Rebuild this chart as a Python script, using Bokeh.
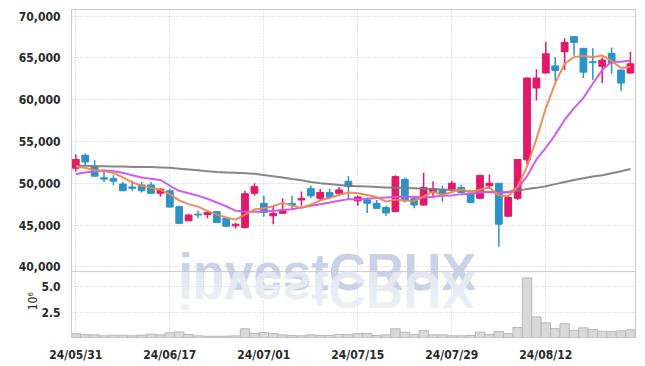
import math
from bokeh.plotting import figure
from bokeh.models import Range1d, NumeralTickFormatter, FixedTicker, Label, ColumnDataSource, Span
from bokeh.embed import file_html
from bokeh.resources import INLINE

dates = ["24/05/31", "24/06/03", "24/06/04", "24/06/05", "24/06/07", "24/06/10", "24/06/11", "24/06/12",
         "24/06/13", "24/06/14", "24/06/17", "24/06/18", "24/06/19", "24/06/20", "24/06/21", "24/06/24",
         "24/06/25", "24/06/26", "24/06/27", "24/06/28", "24/07/01", "24/07/02", "24/07/03", "24/07/04",
         "24/07/05", "24/07/08", "24/07/09", "24/07/10", "24/07/11", "24/07/12", "24/07/15", "24/07/16",
         "24/07/17", "24/07/18", "24/07/19", "24/07/22", "24/07/23", "24/07/24", "24/07/25", "24/07/26",
         "24/07/29", "24/07/30", "24/07/31", "24/08/01", "24/08/02", "24/08/05", "24/08/06", "24/08/07",
         "24/08/08", "24/08/09", "24/08/12", "24/08/13", "24/08/14", "24/08/16", "24/08/19", "24/08/20",
         "24/08/21", "24/08/22", "24/08/23", "24/08/26"]

opens = [51800, 53350, 52050, 50650, 50550, 49900, 49550, 49800, 49800, 48800,
         49100, 47200, 45500, 46300, 46250, 46600, 45800, 44900, 44700, 48800,
         47600, 46100, 46400, 47600, 48000, 49350, 48200, 48900, 48800, 50250,
         47900, 48000, 47600, 47100, 46600, 50450, 48150, 47400, 49000, 49200,
         49300, 49500, 48800, 48200, 49700, 50000, 46050, 48200, 52800, 61400,
         63200, 64050, 65750, 67550, 66150, 64550, 64000, 65550, 63550, 63200]
closes = [52850, 52550, 50850, 50500, 50250, 49100, 49400, 49100, 48800, 49300,
          47150, 45200, 46200, 46200, 46500, 45300, 44850, 45100, 48750, 49600,
          46500, 46400, 46700, 47400, 48200, 48500, 48900, 48300, 49200, 49600,
          48350, 47600, 47000, 46450, 50800, 47900, 47400, 49500, 49350, 48700,
          50000, 48900, 47700, 50950, 50000, 45100, 48300, 52850, 62600, 62600,
          65500, 63500, 66850, 66850, 63300, 64450, 64750, 64400, 62000, 64300]
highs = [53450, 53550, 52750, 51400, 50950, 50150, 50300, 50150, 50150, 49400,
         49350, 47300, 46350, 46700, 46600, 46650, 45850, 45250, 49100, 50000,
         48500, 47300, 48200, 48500, 49000, 49700, 49300, 49350, 49550, 50850,
         48500, 48300, 48000, 47300, 50950, 50650, 48400, 51250, 50250, 49700,
         50300, 49800, 48850, 51000, 51050, 50050, 48400, 52900, 62650, 63650,
         66950, 65100, 67350, 67600, 66200, 66150, 65050, 66250, 63600, 65700]
lows = [51400, 52150, 50800, 50150, 49750, 49100, 49100, 48900, 48800, 48400,
        47100, 45100, 45500, 45800, 45800, 45300, 44800, 44600, 44600, 48500,
        46000, 45100, 46400, 46900, 47300, 48200, 48000, 48100, 48500, 48150,
        47300, 46450, 46950, 46100, 46550, 47700, 47000, 47300, 48300, 47800,
        49100, 48800, 47600, 48150, 49300, 42400, 46000, 48000, 52250, 59900,
        63150, 62250, 63550, 65250, 62600, 62400, 62000, 63100, 61050, 63100]
volumes_m = [0.55, 0.46, 0.43, 0.34, 0.40, 0.40, 0.34, 0.40, 0.49, 0.43,
             0.62, 0.71, 0.46, 0.34, 0.30, 0.30, 0.30, 0.34, 1.00, 0.58,
             0.65, 0.55, 0.43, 0.37, 0.34, 0.43, 0.37, 0.37, 0.46, 0.46,
             0.55, 0.55, 0.37, 0.43, 1.00, 0.68, 0.46, 0.84, 0.43, 0.43,
             0.34, 0.34, 0.37, 0.68, 0.46, 0.74, 0.55, 1.12, 5.79, 2.12,
             1.56, 1.02, 1.49, 0.86, 1.09, 0.93, 0.77, 0.74, 0.81, 0.90]
ma5 = [52000, 51850, 51550, 51450, 51250, 50700, 50100, 49700, 49450, 49200,
       48700, 47950, 47500, 47200, 46700, 46250, 45900, 45650, 46250, 46850,
       47000, 47250, 47650, 47350, 47050, 47450, 47950, 48250, 48600, 48900,
       48800, 48600, 48350, 47800, 48050, 47950, 47900, 48400, 49000, 48600,
       48950, 49250, 48950, 49250, 49500, 48550, 48450, 49600, 52000, 55300,
       59000, 62000, 64300, 65100, 65250, 65100, 65300, 64650, 63800, 63950]
ma20 = [51100, 51300, 51450, 51550, 51450, 51250, 50950, 50700, 50550, 50400,
        49700, 49100, 48800, 48500, 48150, 47700, 47250, 46700, 46600, 46600,
        46600, 46700, 46800, 46900, 47100, 47300, 47500, 47700, 47900, 48100,
        48100, 48150, 48250, 48300, 48400, 48400, 48400, 48300, 48400, 48500,
        48550, 48700, 48750, 48900, 48950, 48900, 48900, 49400, 50850, 52850,
        54250, 55800, 57600, 59000, 60200, 61950, 63550, 64550, 64550, 64700]
ma60 = [52100, 52100, 52050, 52050, 52000, 52000, 51950, 51950, 51950, 51900,
        51850, 51750, 51650, 51550, 51450, 51350, 51300, 51250, 51200, 51150,
        51000, 50850, 50700, 50500, 50350, 50150, 50000, 49900, 49800, 49700,
        49650, 49600, 49550, 49500, 49450, 49450, 49400, 49350, 49300, 49250,
        49200, 49100, 49050, 49000, 48950, 48900, 48950, 49100, 49300, 49450,
        49650, 49900, 50150, 50400, 50600, 50800, 50950, 51200, 51450, 51700]
price_ticks = [40000, 45000, 50000, 55000, 60000, 65000, 70000]
volume_ticks = [2.5, 5.0]
volume_tick_labels = ["2.5", "5.0"]
date_tick_idx = [0, 10, 20, 30, 40, 50]
volume_unit = "10\u2076"
watermark = "investCRUX"

UP = "#e2186a"
DOWN = "#2a93c8"
FONT = "DejaVu Sans Condensed"
GRID = "#c4c6da"

# one frame: price panel on top, volume panel at the bottom (extra y range)
P0, P1 = 31538, 70800          # price range over the whole frame
V0, V1 = 0.18, 31.10           # volume range over the whole frame
PANEL_SPLIT = 39422            # price level of the separator between panels


def vol_to_price(v):
    return P0 + (v - V0) / (V1 - V0) * (P1 - P0)


idx = list(range(len(dates)))
colors = [UP if c >= o else DOWN for o, c in zip(opens, closes)]
src = ColumnDataSource(dict(
    x=idx, high=highs, low=lows,
    top=[max(o, c) for o, c in zip(opens, closes)],
    bottom=[min(o, c) for o, c in zip(opens, closes)],
    color=colors, vol=volumes_m, ma5=ma5, ma20=ma20, ma60=ma60,
))

p = figure(width=644, height=364, x_range=Range1d(-0.46, 59.54), y_range=Range1d(P0, P1),
           output_backend="svg", toolbar_location=None,
           min_border_left=71, min_border_right=9, min_border_top=9, min_border_bottom=26)
p.extra_y_ranges = {"vol": Range1d(V0, V1)}

vol_tick_pos = [vol_to_price(v) for v in volume_ticks]
p.yaxis.ticker = FixedTicker(ticks=price_ticks + vol_tick_pos)
p.yaxis.formatter = NumeralTickFormatter(format="0,0")
p.yaxis.major_label_overrides = {pos: lab for pos, lab in zip(vol_tick_pos, volume_tick_labels)}
p.xaxis.ticker = FixedTicker(ticks=date_tick_idx)
p.xaxis.major_label_overrides = {i: dates[i] for i in date_tick_idx}

for ax in (p.xaxis, p.yaxis):
    ax.axis_line_color = "#c8c8c8"
    ax.major_tick_line_color = None
    ax.minor_tick_line_color = None
    ax.major_label_text_font = FONT
    ax.major_label_text_font_style = "bold"
    ax.major_label_text_font_size = "12px"
    ax.major_label_text_color = "#2a2a2a"
    ax.major_label_standoff = 5
p.xaxis.major_label_standoff = 4
for g in (p.xgrid, p.ygrid):
    g.grid_line_color = GRID
    g.grid_line_dash = "1 2"
    g.grid_line_width = 1
p.outline_line_color = "#cccccc"

wm = Label(x=10.92, y=PANEL_SPLIT, text=watermark, text_font="Liberation Sans",
           text_font_style="bold", text_font_size="52px", text_color="#cbd2e8",
           text_baseline="alphabetic", level="underlay")
p.add_layout(wm)

unit = Label(x=-4.6, y=vol_to_price(3.6), text=volume_unit, angle=math.pi / 2,
             text_font=FONT, text_font_size="12px", text_color="#2a2a2a",
             text_align="center", text_baseline="middle")
p.add_layout(unit, "left")

p.add_layout(Span(location=PANEL_SPLIT, dimension="width", line_color="#c8c8c8", line_width=1))

p.vbar(x="x", top="vol", bottom=0, width=1.0, source=src, y_range_name="vol",
       fill_color="#d9d9d9", line_color="#b8b8b8", line_width=1)

p.segment(x0="x", y0="high", x1="x", y1="low", source=src, line_color="color", line_width=1.5)
p.vbar(x="x", top="top", bottom="bottom", width=0.72, source=src,
       fill_color="color", line_color="color", line_width=1)
p.line(x="x", y="ma60", source=src, line_color="#7a7a7a", line_width=2, line_alpha=0.9)
p.line(x="x", y="ma20", source=src, line_color="#cf55ea", line_width=2, line_alpha=0.95)
p.line(x="x", y="ma5", source=src, line_color="#ef8650", line_width=2, line_alpha=0.95)

html = file_html(p, INLINE, title="investCRUX chart")
reflection = (
    '<svg style="position:absolute;left:0;top:0;pointer-events:none;z-index:10" '
    'width="645" height="366" xmlns="http://www.w3.org/2000/svg">'
    '<defs><linearGradient id="rg" gradientUnits="userSpaceOnUse" x1="0" y1="-272" x2="0" y2="-318">'
    '<stop offset="0" stop-color="#e4e7f1"/><stop offset="1" stop-color="#f1f2f7"/>'
    '</linearGradient></defs>'
    '<text x="178" y="-272" transform="scale(1,-1)" font-family="Liberation Sans" '
    'font-weight="bold" font-size="52" fill="url(#rg)">' + watermark + '</text></svg>'
)
html = html.replace("</body>", reflection + "</body>")
open("out.html", "w").write(html)
